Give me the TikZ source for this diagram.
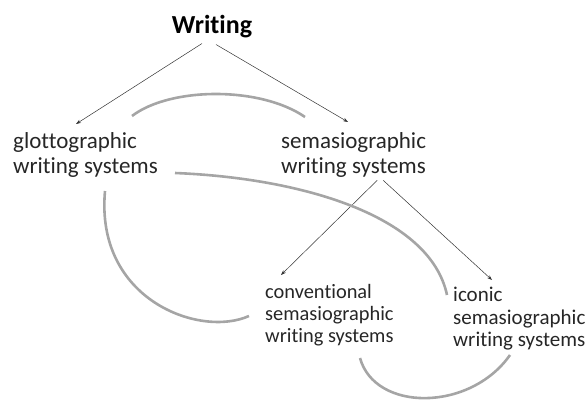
\documentclass[tikz,border=0pt]{standalone}
\usepackage{fontspec}
\setmainfont{Carlito}[Ligatures=NoCommon]
\usetikzlibrary{arrows.meta,calc}
\definecolor{arcgray}{RGB}{165,165,165}
\begin{document}
\begin{tikzpicture}[x=1pt,y=-1pt,
  lbl/.style={inner sep=0pt,anchor=north west,align=left,text=black!85},
  big/.style={lbl,font=\fontsize{23}{25}\selectfont},
  small/.style={lbl,font=\fontsize{20.4}{22}\selectfont},
  arr/.style={draw=black!80,line width=0.5pt,-{Stealth[length=5pt,width=3.5pt]}},
  arcline/.style={draw=arcgray,line width=2.6pt}]
\path[use as bounding box] (0,0) rectangle (586,403);
\node[font=\fontsize{26}{28}\bfseries, inner sep=0pt] (W) at (212,27) {Writing};
\node[big] (G) at (13,132) {glottographic\\writing systems};
\node[big] (S) at (281,132) {semasiographic\\writing systems};
\node[small] (C) at (265,284) {conventional\\semasiographic\\writing systems};
\node[lbl,font=\fontsize{21}{22.5}\selectfont] (I) at (453,287) {iconic\\semasiographic\\writing systems};
\draw[arr] ([shift={(-10,5)}]W.south) -- ([shift={(63,-8)}]G.north west);
\draw[arr] ([shift={(4,6)}]W.south) -- ([shift={(67,-10)}]S.north west);
\draw[arr] ([shift={(-49,3)}]S.south east) -- ([shift={(16,-9)}]C.north west);
\draw[arr] ([shift={(-43,3)}]S.south east) -- ([shift={(39,-7)}]I.north west);
\draw[arcline] (132,116) .. controls (170,87) and (260,86) .. (305,117);
\draw[arcline] (175,173) .. controls (300,178) and (430,215) .. (447,295);
\draw[arcline] (105,191) .. controls (95,300) and (200,338) .. (249,316);
\draw[arcline] (360,358) .. controls (375,412) and (470,412) .. (510,355);
\end{tikzpicture}
\end{document}
